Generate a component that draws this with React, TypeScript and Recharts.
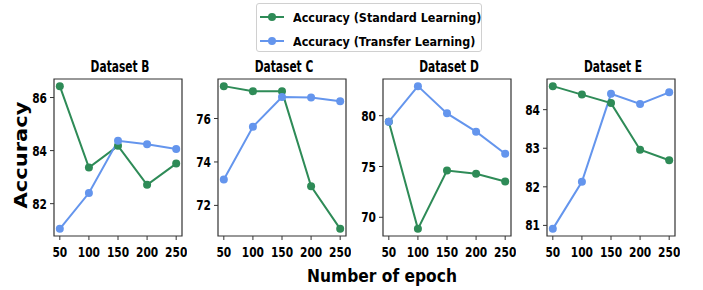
import { LineChart, Line, XAxis, YAxis, ReferenceArea } from 'recharts';

const epochs = [50, 100, 150, 200, 250];

const datasetNames = ['Dataset B', 'Dataset C', 'Dataset D', 'Dataset E'];

const standardB = [86.43, 83.36, 84.18, 82.71, 83.51];
const transferB = [81.05, 82.4, 84.37, 84.24, 84.06];
const standardC = [77.49, 77.26, 77.25, 72.88, 70.92];
const transferC = [73.19, 75.62, 76.99, 76.97, 76.79];
const standardD = [79.4, 68.86, 74.6, 74.28, 73.53];
const transferD = [79.41, 82.91, 80.23, 78.43, 76.25];
const standardE = [84.61, 84.39, 84.17, 82.96, 82.69];
const transferE = [80.91, 82.13, 84.41, 84.15, 84.45];

const yTicksB = [82, 84, 86];
const yTicksC = [72, 74, 76];
const yTicksD = [70, 75, 80];
const yTicksE = [81, 82, 83, 84];

const GREEN = '#2e8b57';
const BLUE = '#6495ed';
const FONT = '"DejaVu Sans", sans-serif';

const panels = [
  { title: datasetNames[0], std: standardB, tl: transferB, ticks: yTicksB, left: 54 },
  { title: datasetNames[1], std: standardC, tl: transferC, ticks: yTicksC, left: 218 },
  { title: datasetNames[2], std: standardD, tl: transferD, ticks: yTicksD, left: 383 },
  { title: datasetNames[3], std: standardE, tl: transferE, ticks: yTicksE, left: 547 },
];

const PLOT_W = 128;
const PLOT_H = 157;
const PLOT_TOP = 79;
const Y_AXIS_W = 40;

// the reference text is squeezed sideways, so draw it a bit narrow
function NarrowTick(props: any) {
  const { x, y, payload, textAnchor, verticalAnchor } = props;
  const dy = verticalAnchor === 'start' ? '0.71em' : '0.36em';
  return (
    <g transform={`translate(${x},${y}) scale(0.76,1)`}>
      <text
        textAnchor={textAnchor}
        dy={dy}
        fontSize={14}
        fontWeight={700}
        fill="#000"
        fontFamily={FONT}
      >
        {payload.value}
      </text>
    </g>
  );
}

function Panel({ title, std, tl, ticks, left }: (typeof panels)[number]) {
  const data = epochs.map((e, i) => ({ epoch: e, standard: std[i], transfer: tl[i] }));
  const all = [...std, ...tl];
  const lo = Math.min(...all);
  const hi = Math.max(...all);
  const pad = (hi - lo) * 0.05;
  const domain: [number, number] = [lo - pad, hi + pad];

  return (
    <>
      <div
        style={{
          position: 'absolute',
          left: left + 2,
          width: PLOT_W,
          top: 57,
          textAlign: 'center',
          fontFamily: FONT,
          fontWeight: 700,
          fontSize: 15,
          lineHeight: '20px',
          whiteSpace: 'nowrap',
          transform: 'scaleX(0.71)',
        }}
      >
        {title}
      </div>
      <div style={{ position: 'absolute', left: left - Y_AXIS_W, top: PLOT_TOP - 5 }}>
        <LineChart
          width={Y_AXIS_W + PLOT_W + 5}
          height={PLOT_H + 5 + 30}
          data={data}
          margin={{ top: 5, right: 5, left: 0, bottom: 0 }}
        >
          <XAxis
            dataKey="epoch"
            type="number"
            domain={[40, 260]}
            ticks={epochs}
            interval={0}
            height={30}
            tick={<NarrowTick />}
            tickSize={4}
            tickMargin={7}
            stroke="#333"
            axisLine={false}
          />
          <YAxis
            type="number"
            domain={domain}
            ticks={ticks}
            interval={0}
            width={Y_AXIS_W}
            tick={<NarrowTick />}
            tickSize={4}
            tickMargin={3}
            stroke="#333"
            axisLine={false}
            allowDataOverflow
          />
          <ReferenceArea
            x1={40}
            x2={260}
            y1={domain[0]}
            y2={domain[1]}
            fill="none"
            stroke="#333"
            strokeWidth={1.2}
          />
          <Line
            dataKey="standard"
            stroke={GREEN}
            strokeWidth={2}
            dot={{ r: 4, fill: GREEN, stroke: GREEN, strokeWidth: 0 }}
            isAnimationActive={false}
          />
          <Line
            dataKey="transfer"
            stroke={BLUE}
            strokeWidth={2}
            dot={{ r: 4, fill: BLUE, stroke: BLUE, strokeWidth: 0 }}
            isAnimationActive={false}
          />
        </LineChart>
      </div>
    </>
  );
}

function LegendRow({ color, label }: { color: string; label: string }) {
  return (
    <div style={{ display: 'flex', alignItems: 'center', height: 24 }}>
      <svg width={26} height={10} style={{ marginRight: 8, flex: 'none' }}>
        <line x1={1} y1={5} x2={25} y2={5} stroke={color} strokeWidth={2} />
        <circle cx={13} cy={5} r={4} fill={color} />
      </svg>
      <span
        style={{
          whiteSpace: 'nowrap',
          display: 'inline-block',
          transform: 'scaleX(0.86)',
          transformOrigin: 'left center',
        }}
      >
        {label}
      </span>
    </div>
  );
}

export default function App() {
  return (
    <div
      style={{
        position: 'absolute',
        left: 0,
        top: 0,
        width: 703,
        height: 290,
        background: '#fff',
        overflow: 'hidden',
      }}
    >
      <div
        style={{
          position: 'absolute',
          left: 256,
          top: 3,
          width: 226,
          height: 49,
          boxSizing: 'border-box',
          border: '1px solid #d0d0d0',
          borderRadius: 3,
          padding: '1px 0 0 2px',
          fontFamily: FONT,
          fontWeight: 700,
          fontSize: 13,
        }}
      >
        <LegendRow color={GREEN} label="Accuracy (Standard Learning)" />
        <LegendRow color={BLUE} label="Accuracy (Transfer Learning)" />
      </div>

      {panels.map((p) => (
        <Panel key={p.title} {...p} />
      ))}

      <div
        style={{
          position: 'absolute',
          left: 21,
          top: 155,
          transform: 'translate(-50%, -50%) rotate(-90deg) scaleY(0.85)',
          fontFamily: FONT,
          fontWeight: 700,
          fontSize: 21,
          whiteSpace: 'nowrap',
        }}
      >
        Accuracy
      </div>
      <div
        style={{
          position: 'absolute',
          left: 382,
          top: 275,
          transform: 'translate(-50%, -50%) scaleX(0.86)',
          fontFamily: FONT,
          fontWeight: 700,
          fontSize: 18,
          whiteSpace: 'nowrap',
        }}
      >
        Number of epoch
      </div>
    </div>
  );
}
